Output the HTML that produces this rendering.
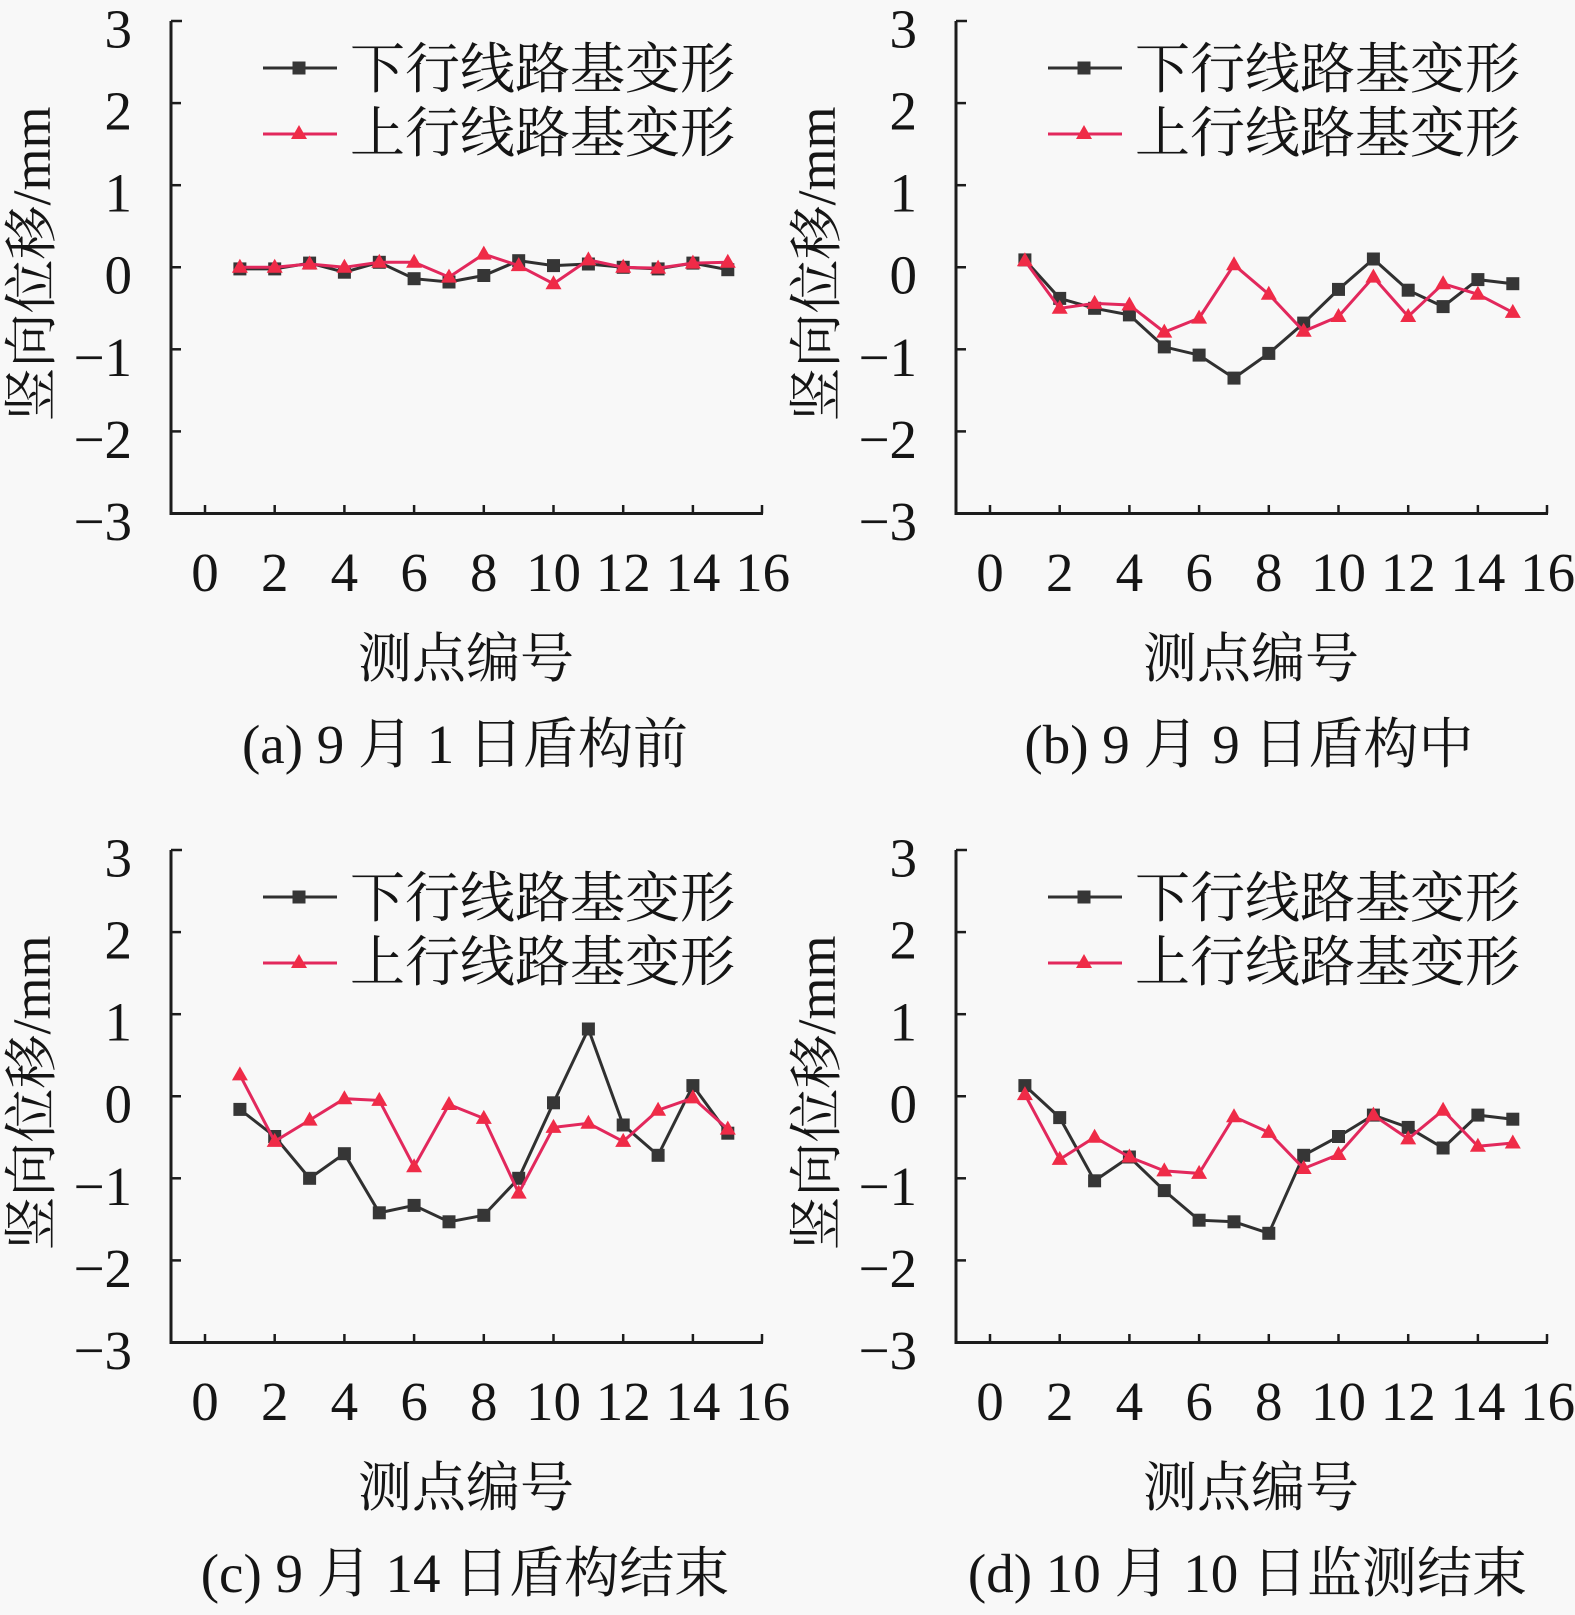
<!DOCTYPE html>
<html>
<head>
<meta charset="utf-8">
<style>
html,body{margin:0;padding:0;background:#f8f8f8;}
svg{display:block;}
text{font-family:"Liberation Serif","Noto Serif CJK SC","Noto Serif CJK JP","Noto Serif CJK TC","Noto Serif SC","Source Han Serif SC",serif;fill:#151515;}
</style>
</head>
<body>
<svg width="1575" height="1615" viewBox="0 0 1575 1615" xmlns="http://www.w3.org/2000/svg">
<rect width="1575" height="1615" fill="#f8f8f8"/>
<defs>
  <marker id="sq" markerUnits="userSpaceOnUse" markerWidth="15" markerHeight="15" refX="7.5" refY="7.5" orient="0" overflow="visible">
    <rect x="1" y="1" width="13" height="13" fill="#363636"/>
  </marker>
  <marker id="tr" markerUnits="userSpaceOnUse" markerWidth="17" markerHeight="17" refX="8.5" refY="9.5" orient="0" overflow="visible">
    <path d="M8.5,1 L16.5,15 L0.5,15Z" fill="#ef2b47"/>
  </marker>
  <g id="ax">
    <path d="M171,21 V513.5 H763" fill="none" stroke="#1c1c1c" stroke-width="3"/>
    <g stroke="#1c1c1c" stroke-width="2.5">
      <line x1="171" y1="21" x2="182" y2="21"/>
      <line x1="171" y1="103.1" x2="181" y2="103.1"/>
      <line x1="171" y1="185.2" x2="181" y2="185.2"/>
      <line x1="171" y1="267.25" x2="181" y2="267.25"/>
      <line x1="171" y1="349.3" x2="181" y2="349.3"/>
      <line x1="171" y1="431.4" x2="181" y2="431.4"/>
      <line x1="205" y1="513.5" x2="205" y2="505"/>
      <line x1="274.7" y1="513.5" x2="274.7" y2="505"/>
      <line x1="344.4" y1="513.5" x2="344.4" y2="505"/>
      <line x1="414.1" y1="513.5" x2="414.1" y2="505"/>
      <line x1="483.8" y1="513.5" x2="483.8" y2="505"/>
      <line x1="553.5" y1="513.5" x2="553.5" y2="505"/>
      <line x1="623.2" y1="513.5" x2="623.2" y2="505"/>
      <line x1="692.9" y1="513.5" x2="692.9" y2="505"/>
      <line x1="762" y1="513.5" x2="762" y2="505"/>
    </g>
    <g font-size="55" text-anchor="end">
      <text x="132" y="47.5">3</text>
      <text x="132" y="129.6">2</text>
      <text x="132" y="211.7">1</text>
      <text x="132" y="293.7">0</text>
      <text x="132" y="375.8">−1</text>
      <text x="132" y="457.9">−2</text>
      <text x="132" y="540">−3</text>
    </g>
    <g font-size="55" text-anchor="middle">
      <text x="205" y="591">0</text>
      <text x="274.7" y="591">2</text>
      <text x="344.4" y="591">4</text>
      <text x="414.1" y="591">6</text>
      <text x="483.8" y="591">8</text>
      <text x="553.5" y="591">10</text>
      <text x="623.2" y="591">12</text>
      <text x="692.9" y="591">14</text>
      <text x="762.6" y="591">16</text>
    </g>
    <text x="466" y="677" font-size="54" text-anchor="middle">测点编号</text>
    <text transform="translate(50,264) rotate(-90)" font-size="54" text-anchor="middle">竖向位移/mm</text>
    <!-- legend -->
    <line x1="263" y1="68" x2="337" y2="68" stroke="#303030" stroke-width="3"/>
    <rect x="292.5" y="61.5" width="13" height="13" fill="#363636"/>
    <line x1="263" y1="134" x2="337" y2="134" stroke="#e2285c" stroke-width="3"/>
    <path d="M299,125 L307,139 L291,139Z" fill="#ef2b47"/>
    <text x="350" y="88" font-size="55">下行线路基变形</text>
    <text x="350" y="152" font-size="55">上行线路基变形</text>
  </g>
</defs>

<!-- Panel a -->
<g>
  <use href="#ax"/>
  <polyline fill="none" stroke="#303030" stroke-width="3" marker-start="url(#sq)" marker-mid="url(#sq)" marker-end="url(#sq)"
    points="239.9,268.9 274.7,268.9 309.6,263.1 344.4,272.2 379.3,262.3 414.1,278.7 449,282 483.8,275.5 518.7,260.7 553.5,265.6 588.4,264 623.2,267.3 658.1,268.9 692.9,263.1 727.8,269.7"/>
  <polyline fill="none" stroke="#e2285c" stroke-width="3" marker-start="url(#tr)" marker-mid="url(#tr)" marker-end="url(#tr)"
    points="239.9,267.3 274.7,267.3 309.6,264 344.4,267.3 379.3,262.3 414.1,262.3 449,277.1 483.8,254.1 518.7,265.6 553.5,283.7 588.4,259.9 623.2,267.3 658.1,268.1 692.9,263.1 727.8,262.3"/>
  <text x="465" y="763" font-size="55" text-anchor="middle">(a) 9 月 1 日盾构前</text>
</g>

<!-- Panel b -->
<g transform="translate(785,0)">
  <use href="#ax"/>
  <polyline fill="none" stroke="#303030" stroke-width="3" marker-start="url(#sq)" marker-mid="url(#sq)" marker-end="url(#sq)"
    points="239.9,259.9 274.7,298.4 309.6,308.3 344.4,314.9 379.3,346.9 414.1,355.1 449,378.1 483.8,353.4 518.7,323.1 553.5,289.4 588.4,259 623.2,290.2 658.1,306.6 692.9,279.6 727.8,283.7"/>
  <polyline fill="none" stroke="#e2285c" stroke-width="3" marker-start="url(#tr)" marker-mid="url(#tr)" marker-end="url(#tr)"
    points="239.9,260.7 274.7,308.3 309.6,303.4 344.4,305 379.3,332.1 414.1,318.1 449,264.8 483.8,294.3 518.7,331.3 553.5,316.5 588.4,277.1 623.2,316.5 658.1,283.7 692.9,294.3 727.8,312.4"/>
  <text x="464" y="763" font-size="55" text-anchor="middle">(b) 9 月 9 日盾构中</text>
</g>

<!-- Panel c -->
<g transform="translate(0,829)">
  <use href="#ax"/>
  <polyline fill="none" stroke="#303030" stroke-width="3" marker-start="url(#sq)" marker-mid="url(#sq)" marker-end="url(#sq)"
    points="239.9,280.4 274.7,307.5 309.6,349.3 344.4,324.7 379.3,383.8 414.1,376.4 449,392.8 483.8,386.3 518.7,349.3 553.5,273.8 588.4,200 623.2,296 658.1,326.3 692.9,256.6 727.8,304.2"/>
  <polyline fill="none" stroke="#e2285c" stroke-width="3" marker-start="url(#tr)" marker-mid="url(#tr)" marker-end="url(#tr)"
    points="239.9,245.9 274.7,312.4 309.6,291.1 344.4,269.7 379.3,271.4 414.1,337.8 449,275.5 483.8,289.4 518.7,364.1 553.5,298.4 588.4,294.3 623.2,312.4 658.1,281.2 692.9,268.9 727.8,300.1"/>
  <text x="465" y="763" font-size="55" text-anchor="middle">(c) 9 月 14 日盾构结束</text>
</g>

<!-- Panel d -->
<g transform="translate(785,829)">
  <use href="#ax"/>
  <polyline fill="none" stroke="#303030" stroke-width="3" marker-start="url(#sq)" marker-mid="url(#sq)" marker-end="url(#sq)"
    points="239.9,256.6 274.7,288.6 309.6,351.8 344.4,328 379.3,361.6 414.1,391.2 449,392.8 483.8,404.3 518.7,326.3 553.5,307.5 588.4,286.1 623.2,298.4 658.1,319 692.9,286.1 727.8,290.2"/>
  <polyline fill="none" stroke="#e2285c" stroke-width="3" marker-start="url(#tr)" marker-mid="url(#tr)" marker-end="url(#tr)"
    points="239.9,265.6 274.7,330.4 309.6,308.3 344.4,328 379.3,341.9 414.1,344.4 449,287.8 483.8,303.4 518.7,339.5 553.5,325.5 588.4,286.1 623.2,309.9 658.1,281.2 692.9,317.3 727.8,314"/>
  <text x="462.5" y="763" font-size="55" text-anchor="middle">(d) 10 月 10 日监测结束</text>
</g>
</svg>
</body>
</html>
